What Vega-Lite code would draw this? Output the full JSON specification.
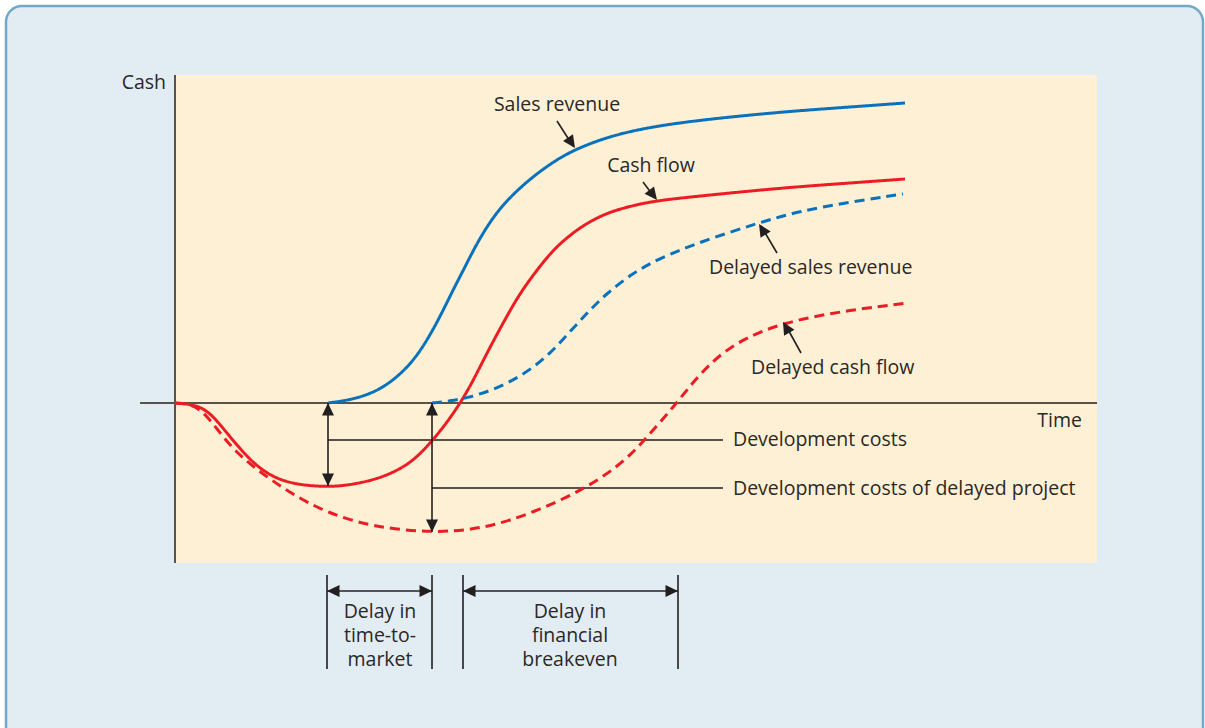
{
  "$schema": "https://vega.github.io/schema/vega-lite/v6.json",
  "width": 1205,
  "height": 728,
  "autosize": {"type": "fit", "contains": "padding"},
  "padding": 0,
  "background": "#ffffff",
  "config": {"view": {"stroke": null}},
  "datasets": {
    "panels": [
      {"name": "outer", "t": -169, "t2": 1028, "cash": 397, "cash2": -345},
      {"name": "plot", "t": 0, "t2": 922, "cash": 328, "cash2": -160}
    ],
    "curves": [
      {"series": "Sales revenue", "t": 153, "cash": 0},
      {"series": "Sales revenue", "t": 175, "cash": 3},
      {"series": "Sales revenue", "t": 195, "cash": 9},
      {"series": "Sales revenue", "t": 212, "cash": 18},
      {"series": "Sales revenue", "t": 230, "cash": 33},
      {"series": "Sales revenue", "t": 245, "cash": 51},
      {"series": "Sales revenue", "t": 262, "cash": 80},
      {"series": "Sales revenue", "t": 278, "cash": 113},
      {"series": "Sales revenue", "t": 290, "cash": 136},
      {"series": "Sales revenue", "t": 302, "cash": 160},
      {"series": "Sales revenue", "t": 318, "cash": 186},
      {"series": "Sales revenue", "t": 335, "cash": 206},
      {"series": "Sales revenue", "t": 355, "cash": 224},
      {"series": "Sales revenue", "t": 375, "cash": 239},
      {"series": "Sales revenue", "t": 398, "cash": 253},
      {"series": "Sales revenue", "t": 435, "cash": 267},
      {"series": "Sales revenue", "t": 475, "cash": 276},
      {"series": "Sales revenue", "t": 525, "cash": 283},
      {"series": "Sales revenue", "t": 605, "cash": 291},
      {"series": "Sales revenue", "t": 675, "cash": 296},
      {"series": "Sales revenue", "t": 730, "cash": 300},
      {"series": "Cash flow", "t": 0, "cash": 0},
      {"series": "Cash flow", "t": 15, "cash": -1},
      {"series": "Cash flow", "t": 28, "cash": -5},
      {"series": "Cash flow", "t": 40, "cash": -15},
      {"series": "Cash flow", "t": 55, "cash": -34},
      {"series": "Cash flow", "t": 75, "cash": -57},
      {"series": "Cash flow", "t": 90, "cash": -69},
      {"series": "Cash flow", "t": 105, "cash": -77},
      {"series": "Cash flow", "t": 125, "cash": -82},
      {"series": "Cash flow", "t": 153, "cash": -84},
      {"series": "Cash flow", "t": 175, "cash": -82},
      {"series": "Cash flow", "t": 198, "cash": -77},
      {"series": "Cash flow", "t": 215, "cash": -71},
      {"series": "Cash flow", "t": 232, "cash": -62},
      {"series": "Cash flow", "t": 245, "cash": -51},
      {"series": "Cash flow", "t": 257, "cash": -38},
      {"series": "Cash flow", "t": 270, "cash": -22},
      {"series": "Cash flow", "t": 282, "cash": -5},
      {"series": "Cash flow", "t": 293, "cash": 13},
      {"series": "Cash flow", "t": 302, "cash": 30},
      {"series": "Cash flow", "t": 312, "cash": 50},
      {"series": "Cash flow", "t": 328, "cash": 80},
      {"series": "Cash flow", "t": 345, "cash": 110},
      {"series": "Cash flow", "t": 362, "cash": 133},
      {"series": "Cash flow", "t": 378, "cash": 153},
      {"series": "Cash flow", "t": 395, "cash": 168},
      {"series": "Cash flow", "t": 412, "cash": 180},
      {"series": "Cash flow", "t": 432, "cash": 190},
      {"series": "Cash flow", "t": 452, "cash": 196},
      {"series": "Cash flow", "t": 478, "cash": 202},
      {"series": "Cash flow", "t": 525, "cash": 207},
      {"series": "Cash flow", "t": 605, "cash": 215},
      {"series": "Cash flow", "t": 675, "cash": 220},
      {"series": "Cash flow", "t": 730, "cash": 224},
      {"series": "Delayed sales revenue", "t": 257, "cash": 0},
      {"series": "Delayed sales revenue", "t": 275, "cash": 2},
      {"series": "Delayed sales revenue", "t": 292, "cash": 5},
      {"series": "Delayed sales revenue", "t": 318, "cash": 13},
      {"series": "Delayed sales revenue", "t": 345, "cash": 26},
      {"series": "Delayed sales revenue", "t": 372, "cash": 46},
      {"series": "Delayed sales revenue", "t": 392, "cash": 68},
      {"series": "Delayed sales revenue", "t": 412, "cash": 90},
      {"series": "Delayed sales revenue", "t": 432, "cash": 110},
      {"series": "Delayed sales revenue", "t": 458, "cash": 130},
      {"series": "Delayed sales revenue", "t": 485, "cash": 145},
      {"series": "Delayed sales revenue", "t": 525, "cash": 161},
      {"series": "Delayed sales revenue", "t": 583, "cash": 180},
      {"series": "Delayed sales revenue", "t": 625, "cash": 192},
      {"series": "Delayed sales revenue", "t": 675, "cash": 201},
      {"series": "Delayed sales revenue", "t": 728, "cash": 209},
      {"series": "Delayed cash flow", "t": 0, "cash": 0},
      {"series": "Delayed cash flow", "t": 15, "cash": -1},
      {"series": "Delayed cash flow", "t": 30, "cash": -9},
      {"series": "Delayed cash flow", "t": 55, "cash": -44},
      {"series": "Delayed cash flow", "t": 82, "cash": -67},
      {"series": "Delayed cash flow", "t": 115, "cash": -90},
      {"series": "Delayed cash flow", "t": 152, "cash": -110},
      {"series": "Delayed cash flow", "t": 198, "cash": -124},
      {"series": "Delayed cash flow", "t": 257, "cash": -130},
      {"series": "Delayed cash flow", "t": 308, "cash": -126},
      {"series": "Delayed cash flow", "t": 358, "cash": -110},
      {"series": "Delayed cash flow", "t": 412, "cash": -85},
      {"series": "Delayed cash flow", "t": 452, "cash": -57},
      {"series": "Delayed cash flow", "t": 478, "cash": -27},
      {"series": "Delayed cash flow", "t": 502, "cash": 0},
      {"series": "Delayed cash flow", "t": 525, "cash": 30},
      {"series": "Delayed cash flow", "t": 558, "cash": 60},
      {"series": "Delayed cash flow", "t": 608, "cash": 81},
      {"series": "Delayed cash flow", "t": 675, "cash": 93},
      {"series": "Delayed cash flow", "t": 732, "cash": 100}
    ],
    "segments": [
      {"kind": "axis", "t": 0, "cash": 328, "t2": 0, "cash2": -160},
      {"kind": "axis", "t": -35, "cash": 0, "t2": 922, "cash2": 0},
      {"kind": "axis", "t": 153, "cash": -37, "t2": 548, "cash2": -37},
      {"kind": "axis", "t": 257, "cash": -85, "t2": 548, "cash2": -85},
      {"kind": "thin", "t": 153, "cash": 0, "t2": 153, "cash2": -83},
      {"kind": "thin", "t": 257, "cash": 0, "t2": 257, "cash2": -129},
      {"kind": "thin", "t": 152, "cash": -172, "t2": 152, "cash2": -266},
      {"kind": "thin", "t": 257, "cash": -172, "t2": 257, "cash2": -266},
      {"kind": "thin", "t": 288, "cash": -172, "t2": 288, "cash2": -266},
      {"kind": "thin", "t": 503, "cash": -172, "t2": 503, "cash2": -266},
      {"kind": "thin", "t": 152, "cash": -188, "t2": 257, "cash2": -188},
      {"kind": "thin", "t": 288, "cash": -188, "t2": 503, "cash2": -188},
      {"kind": "thin", "t": 382, "cash": 282, "t2": 398, "cash2": 257},
      {"kind": "thin", "t": 468, "cash": 221, "t2": 480, "cash2": 205},
      {"kind": "thin", "t": 602, "cash": 150, "t2": 586, "cash2": 177},
      {"kind": "thin", "t": 626, "cash": 50, "t2": 610, "cash2": 79}
    ],
    "heads": [
      {"t": 153, "cash": 0, "angle": 0},
      {"t": 153, "cash": -83, "angle": 180},
      {"t": 257, "cash": 0, "angle": 0},
      {"t": 257, "cash": -129, "angle": 180},
      {"t": 152, "cash": -188, "angle": 270},
      {"t": 257, "cash": -188, "angle": 90},
      {"t": 288, "cash": -188, "angle": 270},
      {"t": 503, "cash": -188, "angle": 90},
      {"t": 400, "cash": 255, "angle": 146},
      {"t": 482, "cash": 203, "angle": 142},
      {"t": 584, "cash": 179, "angle": 328},
      {"t": 608, "cash": 81, "angle": 330}
    ],
    "labels": [
      {"align": "left", "label": "Development costs", "t": 558, "cash": -37},
      {"align": "left", "label": "Development costs of delayed project", "t": 558, "cash": -86},
      {"align": "left", "label": "Delayed sales revenue", "t": 534, "cash": 135},
      {"align": "left", "label": "Delayed cash flow", "t": 576, "cash": 35},
      {"align": "right", "label": "Time", "t": 907, "cash": -18},
      {"align": "right", "label": "Cash", "t": -9, "cash": 320},
      {"align": "center", "label": "Sales revenue", "t": 382, "cash": 298},
      {"align": "center", "label": "Cash flow", "t": 476, "cash": 237},
      {"align": "center", "label": "Delay in\ntime-to-\nmarket", "t": 205, "cash": -209},
      {"align": "center", "label": "Delay in\nfinancial\nbreakeven", "t": 395, "cash": -209}
    ]
  },
  "layer": [
    {
      "data": {"name": "panels"},
      "transform": [{"filter": "datum.name === 'outer'"}],
      "mark": {"type": "rect", "fill": "#e1ecf3", "stroke": "#74a9c6", "strokeWidth": 2.5, "cornerRadius": 16, "clip": true},
      "encoding": {
        "x": {"field": "t", "type": "quantitative", "scale": {"domain": [-175, 1030], "nice": false, "zero": false}, "axis": null},
        "x2": {"field": "t2"},
        "y": {"field": "cash", "type": "quantitative", "scale": {"domain": [-325, 403], "nice": false, "zero": false}, "axis": null},
        "y2": {"field": "cash2"}
      }
    },
    {
      "data": {"name": "panels"},
      "transform": [{"filter": "datum.name === 'plot'"}],
      "mark": {"type": "rect", "fill": "#fef0d4"},
      "encoding": {
        "x": {"field": "t", "type": "quantitative", "axis": null},
        "x2": {"field": "t2"},
        "y": {"field": "cash", "type": "quantitative", "axis": null},
        "y2": {"field": "cash2"}
      }
    },
    {
      "data": {"name": "segments"},
      "transform": [{"filter": "datum.kind === 'axis'"}],
      "mark": {"type": "rule", "color": "#58524c", "strokeWidth": 2},
      "encoding": {
        "x": {"field": "t", "type": "quantitative", "axis": null},
        "x2": {"field": "t2"},
        "y": {"field": "cash", "type": "quantitative", "axis": null},
        "y2": {"field": "cash2"}
      }
    },
    {
      "data": {"name": "curves"},
      "mark": {"type": "line", "interpolate": "basis", "strokeWidth": 3, "strokeCap": "butt"},
      "encoding": {
        "x": {"field": "t", "type": "quantitative", "axis": null},
        "y": {"field": "cash", "type": "quantitative", "axis": null},
        "detail": {"field": "series"},
        "color": {"field": "series", "type": "nominal", "legend": null,
          "scale": {"domain": ["Sales revenue", "Cash flow", "Delayed sales revenue", "Delayed cash flow"], "range": ["#0a72bd", "#ec1c24", "#0a72bd", "#ec1c24"]}},
        "strokeDash": {"field": "series", "type": "nominal", "legend": null,
          "scale": {"domain": ["Sales revenue", "Cash flow", "Delayed sales revenue", "Delayed cash flow"], "range": [[1, 0], [1, 0], [10, 6], [10, 6]]}}
      }
    },
    {
      "data": {"name": "segments"},
      "transform": [{"filter": "datum.kind === 'thin'"}],
      "mark": {"type": "rule", "color": "#231f20", "strokeWidth": 1.6},
      "encoding": {
        "x": {"field": "t", "type": "quantitative", "axis": null},
        "x2": {"field": "t2"},
        "y": {"field": "cash", "type": "quantitative", "axis": null},
        "y2": {"field": "cash2"}
      }
    },
    {
      "data": {"name": "heads"},
      "mark": {"type": "point", "shape": "M0,0L0.6,1.25L-0.6,1.25Z", "filled": true, "color": "#231f20", "opacity": 1, "size": 400, "strokeWidth": 0},
      "encoding": {
        "x": {"field": "t", "type": "quantitative", "axis": null},
        "y": {"field": "cash", "type": "quantitative", "axis": null},
        "angle": {"field": "angle", "type": "quantitative", "scale": null}
      }
    },
    {
      "data": {"name": "labels"},
      "transform": [{"filter": "datum.align === 'left'"}],
      "mark": {"type": "text", "align": "left", "baseline": "middle", "font": "Open Sans", "fontSize": 19.5, "color": "#2b2826"},
      "encoding": {
        "x": {"field": "t", "type": "quantitative", "axis": null},
        "y": {"field": "cash", "type": "quantitative", "axis": null},
        "text": {"field": "label"}
      }
    },
    {
      "data": {"name": "labels"},
      "transform": [{"filter": "datum.align === 'right'"}],
      "mark": {"type": "text", "align": "right", "baseline": "middle", "font": "Open Sans", "fontSize": 19.5, "color": "#2b2826"},
      "encoding": {
        "x": {"field": "t", "type": "quantitative", "axis": null},
        "y": {"field": "cash", "type": "quantitative", "axis": null},
        "text": {"field": "label"}
      }
    },
    {
      "data": {"name": "labels"},
      "transform": [{"filter": "datum.align === 'center'"}],
      "mark": {"type": "text", "align": "center", "baseline": "middle", "font": "Open Sans", "fontSize": 19.5, "color": "#2b2826", "lineBreak": "\n", "lineHeight": 24},
      "encoding": {
        "x": {"field": "t", "type": "quantitative", "axis": null},
        "y": {"field": "cash", "type": "quantitative", "axis": null},
        "text": {"field": "label"}
      }
    }
  ]
}
